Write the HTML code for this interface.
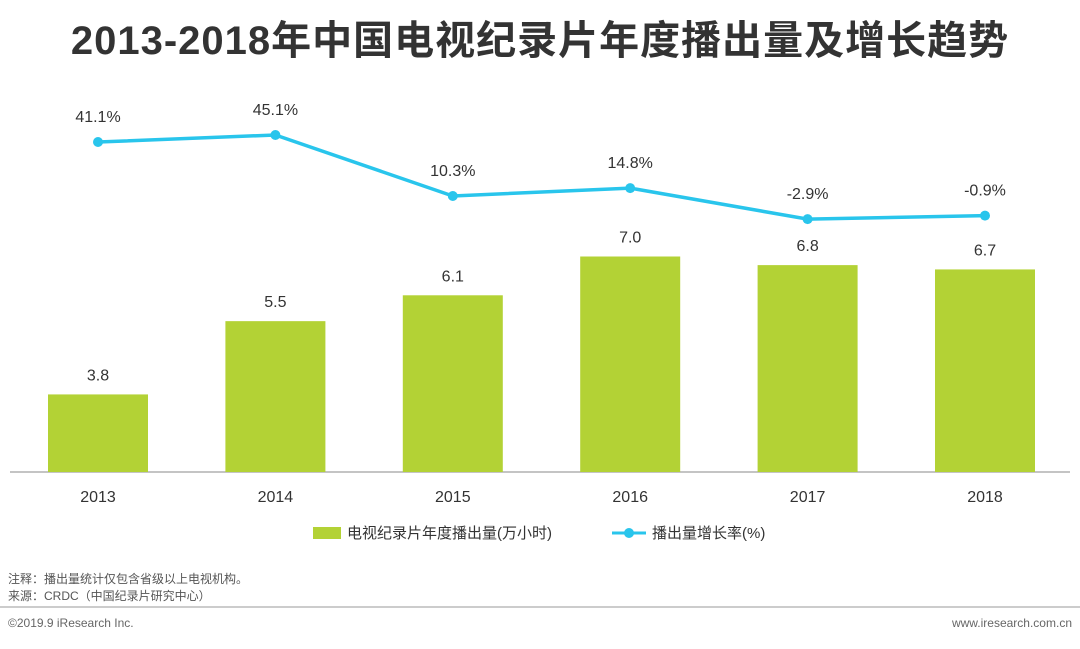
<!DOCTYPE html>
<html><head><meta charset="utf-8">
<style>
body{margin:0;width:1080px;height:644px;background:#fff;overflow:hidden;font-family:"Liberation Sans","Noto Sans CJK SC",sans-serif;}
svg text{font-family:"Liberation Sans","Noto Sans CJK SC",sans-serif;}
</style></head>
<body>
<svg id="chart" width="1080" height="644">
<text x="540" y="54" text-anchor="middle" font-size="40" font-weight="bold" fill="#333" letter-spacing="1">2013-2018年中国电视纪录片年度播出量及增长趋势</text>
<line x1="10" y1="472" x2="1070" y2="472" stroke="#888" stroke-width="1"/>
<g id="bars"></g><g id="line"></g><g id="xlabels"></g>
<g>
<rect x="313" y="527" width="28" height="12" fill="#b3d235"/>
<text x="347" y="538" font-size="15" fill="#333">电视纪录片年度播出量(万小时)</text>
<line x1="612" y1="533" x2="646" y2="533" stroke="#29c5ec" stroke-width="3"/>
<circle cx="629" cy="533" r="5" fill="#29c5ec"/>
<text x="652" y="538" font-size="15" fill="#333">播出量增长率(%)</text>
</g>
<text x="8" y="583" font-size="12" fill="#555">注释：播出量统计仅包含省级以上电视机构。</text>
<text x="8" y="600" font-size="12" fill="#555">来源：CRDC（中国纪录片研究中心）</text>
<line x1="0" y1="607" x2="1080" y2="607" stroke="#999" stroke-width="1"/>
<text x="8" y="627" font-size="12" fill="#666">©2019.9 iResearch Inc.</text>
<text x="1072" y="627" font-size="12" fill="#666" text-anchor="end">www.iresearch.com.cn</text>
</svg>
<script>
const years=["2013","2014","2015","2016","2017","2018"];
const hours=[3.8,5.5,6.1,7.0,6.8,6.7];
const growth=[41.1,45.1,10.3,14.8,-2.9,-0.9];
const NS="http://www.w3.org/2000/svg";
function xC(i){return 98+i*177.4;}
function yBar(v){return 472-(v-2.0)*43.1;}
function yLine(v){return 196-(v-10.3)*1.753;}
function mk(t,a,p){const e=document.createElementNS(NS,t);for(const k in a)e.setAttribute(k,a[k]);p.appendChild(e);return e;}
const gb=document.getElementById('bars'),gl=document.getElementById('line'),gx=document.getElementById('xlabels');
years.forEach((y,i)=>{
 const top=yBar(hours[i]);
 const r=mk('rect',{x:xC(i)-50,y:top,width:100,height:472-top,fill:'#b3d235'},gb);
 
 
 const t=mk('text',{x:xC(i),y:top-14,'text-anchor':'middle','font-size':16,fill:'#333'},gb);
 t.textContent=hours[i].toFixed(1);
 
 
 const xl=mk('text',{x:xC(i),y:502,'text-anchor':'middle','font-size':16,fill:'#333'},gx);
 xl.textContent=y;
 
 
});
const pts=growth.map((v,i)=>xC(i)+','+yLine(v)).join(' ');
const pl=mk('polyline',{points:pts,fill:'none',stroke:'#29c5ec','stroke-width':3.5},gl);


growth.forEach((v,i)=>{
 const c=mk('circle',{cx:xC(i),cy:yLine(v),r:5,fill:'#29c5ec'},gl);
 
 
 const t=mk('text',{x:xC(i),y:yLine(v)-20,'text-anchor':'middle','font-size':16,fill:'#333'},gl);
 t.textContent=v.toFixed(1)+'%';
 
 
});
</script>
</body></html>
